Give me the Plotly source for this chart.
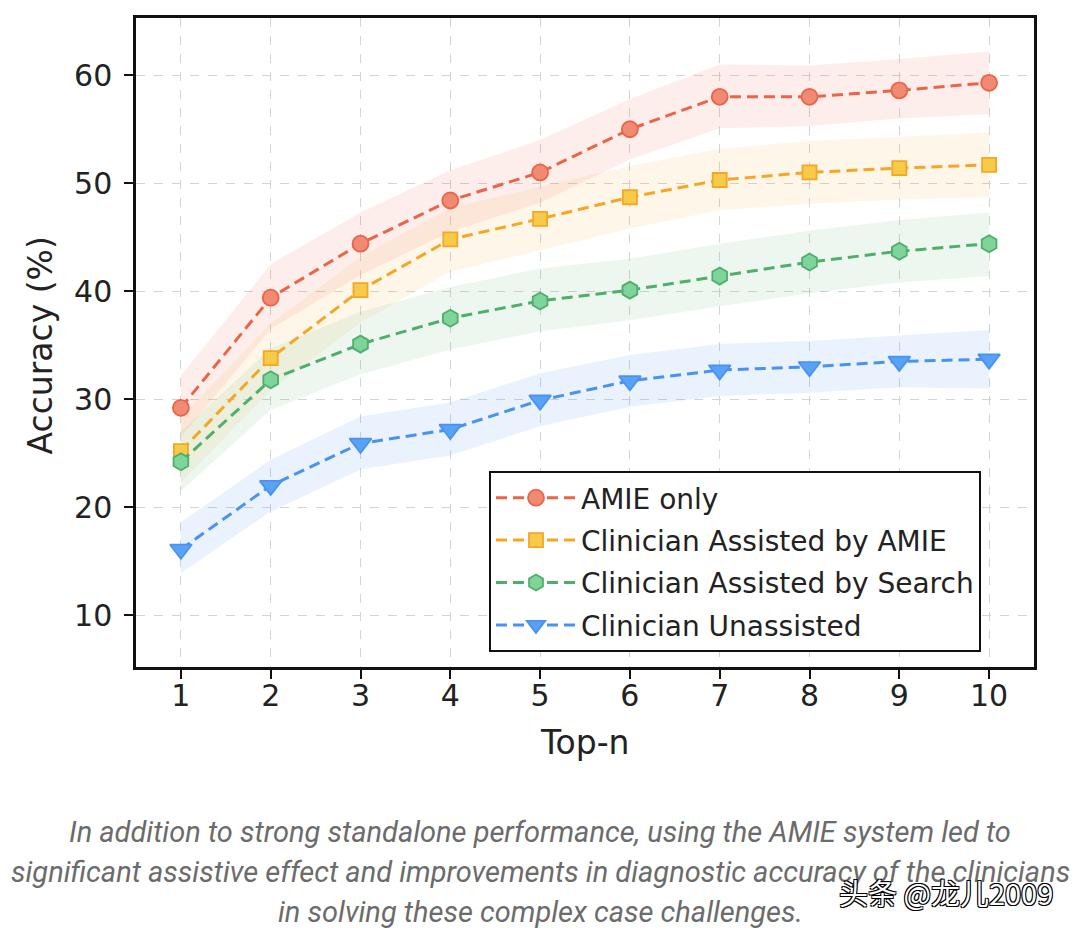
import plotly.graph_objects as go

top_n = [1, 2, 3, 4, 5, 6, 7, 8, 9, 10]

series_names = ["AMIE only", "Clinician Assisted by AMIE",
                "Clinician Assisted by Search", "Clinician Unassisted"]

amie_only = [29.2, 39.4, 44.4, 48.4, 51.0, 55.0, 58.0, 58.0, 58.6, 59.3]
assist_amie = [25.2, 33.8, 40.1, 44.8, 46.7, 48.7, 50.3, 51.0, 51.4, 51.7]
assist_search = [24.2, 31.8, 35.1, 37.5, 39.1, 40.1, 41.4, 42.7, 43.7, 44.4]
unassisted = [16.1, 22.0, 25.9, 27.2, 29.9, 31.7, 32.7, 33.0, 33.5, 33.7]

amie_only_lo = [26.5, 36.5, 41.5, 45.5, 48.2, 52.2, 55.1, 55.3, 56.0, 56.4]
amie_only_hi = [32.2, 42.5, 47.3, 51.2, 54.0, 57.8, 61.0, 60.9, 61.5, 62.2]
assist_amie_lo = [22.3, 30.8, 37.1, 41.8, 43.8, 45.8, 47.5, 48.1, 48.5, 48.7]
assist_amie_hi = [28.3, 37.0, 43.2, 47.7, 49.7, 51.6, 53.2, 53.9, 54.3, 54.7]
assist_search_lo = [21.5, 29.0, 32.3, 34.6, 36.3, 37.3, 38.6, 39.8, 40.8, 41.4]
assist_search_hi = [27.0, 34.7, 38.1, 40.4, 42.1, 43.0, 44.4, 45.6, 46.6, 47.3]
unassisted_lo = [13.9, 19.6, 23.5, 24.8, 27.5, 29.3, 30.3, 30.6, 31.1, 31.0]
unassisted_hi = [18.6, 24.4, 28.4, 29.7, 32.4, 34.1, 35.1, 35.4, 35.9, 36.4]

y_ticks = [10, 20, 30, 40, 50, 60]

x_title = "Top-n"
y_title = "Accuracy (%)"
caption_lines = [
    "In addition to strong standalone performance, using the AMIE system led to",
    "significant assistive effect and improvements in diagnostic accuracy of the clinicians",
    "in solving these complex case challenges.",
]
watermark = "头条 @龙儿2009"

values = [amie_only, assist_amie, assist_search, unassisted]
lows = [amie_only_lo, assist_amie_lo, assist_search_lo, unassisted_lo]
highs = [amie_only_hi, assist_amie_hi, assist_search_hi, unassisted_hi]

line_colors = ["#EC6448", "#F5A623", "#4EAE6A", "#4A92F2"]
fill_colors = ["#F08A72", "#F7CB4A", "#7ED49A", "#5AA2F6"]
band_colors = ["rgba(236,100,72,0.11)", "rgba(245,166,35,0.10)",
               "rgba(78,174,106,0.10)", "rgba(74,146,242,0.12)"]
symbols = ["circle", "square", "hexagon", "triangle-down"]
sizes = [16, 14, 17, 19]

# plot area in pixels
L, R, T, B = 136, 1034, 18, 667
W, H = R - L, B - T


def py(p):
    return (B - p) / H


fig = go.Figure()

for lo, hi, bc in zip(lows, highs, band_colors):
    fig.add_trace(go.Scatter(x=top_n, y=lo, mode="lines", line=dict(width=0),
                             showlegend=False, hoverinfo="skip"))
    fig.add_trace(go.Scatter(x=top_n, y=hi, mode="lines", line=dict(width=0),
                             fill="tonexty", fillcolor=bc,
                             showlegend=False, hoverinfo="skip"))

for i, (name, v, lc, fc, sym, sz) in enumerate(zip(series_names, values, line_colors,
                                                   fill_colors, symbols, sizes)):
    fig.add_trace(go.Scatter(
        x=top_n, y=v, mode="lines+markers", name=name, legendgroup=f"g{i}",
        line=dict(color=lc, width=3, dash="11px,6px"),
        marker=dict(symbol=sym, size=sz, color=fc,
                    line=dict(color=lc, width=1.8)),
    ))

axis_font = dict(family="DejaVu Sans", size=30, color="#222")
title_font = dict(family="DejaVu Sans", size=33, color="#222")
cap_font = dict(family="Roboto", size=29, color="#6b6b6b", style="italic")

annotations = [
    dict(text=y_title, xref="paper", yref="paper", x=0, y=0.5 - 3 / H,
         xshift=40 - L, xanchor="center", yanchor="middle", textangle=-90,
         showarrow=False, font=title_font),
    dict(text=x_title, xref="paper", yref="paper", x=0.5, y=0,
         yshift=-(742 - B), xanchor="center", yanchor="middle",
         showarrow=False, font=title_font),
]
for line, yc in zip(caption_lines, [832, 872, 912]):
    annotations.append(dict(text=line, xref="paper", yref="paper",
                            x=(540 - L) / W, y=py(yc), xanchor="center", yanchor="middle",
                            showarrow=False, font=cap_font))
annotations.append(dict(
    text=watermark, xref="paper", yref="paper", x=(1055 - L) / W, y=py(892),
    xanchor="right", yanchor="middle", showarrow=False,
    font=dict(family="Noto Sans CJK SC", size=29, color="white",
              shadow="1px 1px 0 #000, -1px -1px 0 #000, 1px -1px 0 #000, -1px 1px 0 #000"),
))

fig.update_layout(
    width=1080, height=932,
    paper_bgcolor="white", plot_bgcolor="white",
    margin=dict(l=L, r=1080 - R, t=T, b=932 - B, autoexpand=False),
    font=dict(family="DejaVu Sans", color="#222"),
    legend=dict(
        x=(489 - L) / W, y=py(471), xanchor="left", yanchor="top",
        bgcolor="white", bordercolor="#111", borderwidth=2,
        font=dict(family="DejaVu Sans", size=28, color="#222"),
        itemwidth=80, tracegroupgap=3, traceorder="grouped",
        entrywidth=410, entrywidthmode="pixels",
    ),
    annotations=annotations,
)

fig.update_xaxes(
    range=[0.5, 10.5], tickmode="array", tickvals=top_n,
    ticks="outside", ticklen=9, tickwidth=1.8, tickcolor="#111",
    showline=True, mirror=True, linecolor="#111", linewidth=2.5,
    showgrid=True, gridcolor="#d4d4d4", griddash="dash", gridwidth=1,
    zeroline=False, tickfont=axis_font, automargin=False, ticklabelstandoff=-9,
)
fig.update_yaxes(
    range=[5.2, 65.3], tickmode="array", tickvals=y_ticks,
    ticks="outside", ticklen=9, tickwidth=1.8, tickcolor="#111",
    showline=True, mirror=True, linecolor="#111", linewidth=2.5,
    showgrid=True, gridcolor="#d4d4d4", griddash="dash", gridwidth=1,
    zeroline=False, tickfont=axis_font, automargin=False, ticklabelstandoff=6,
)

fig.write_html("out.html", config={"displayModeBar": False},
               post_script="document.body.style.margin='0';document.body.style.overflow='hidden';")
